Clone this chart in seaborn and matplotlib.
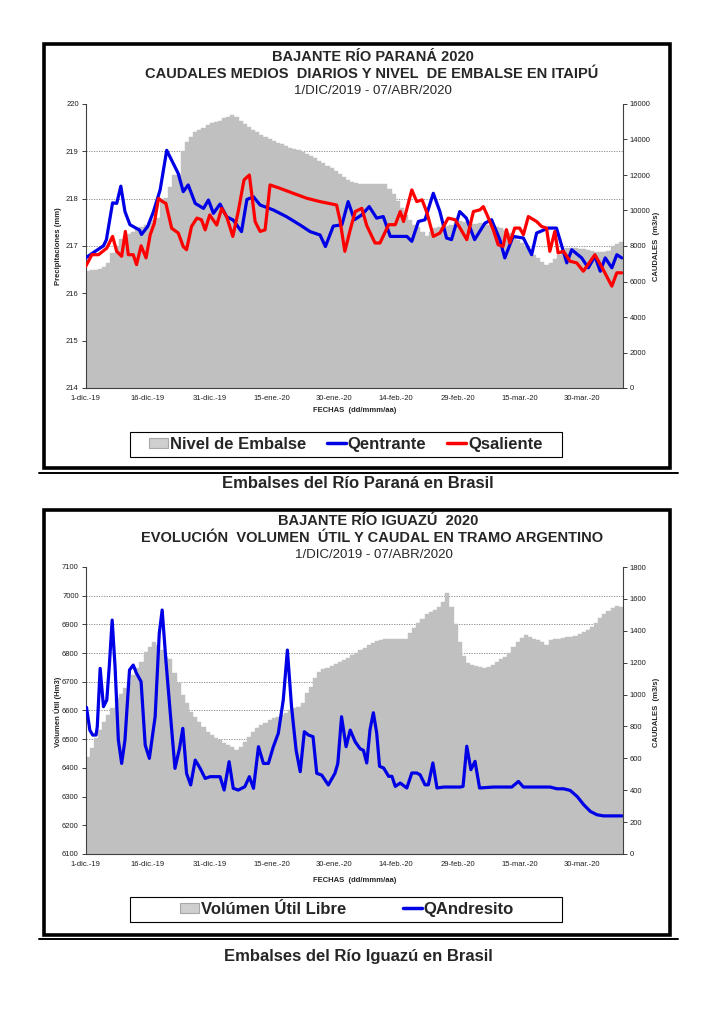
import matplotlib
matplotlib.use("Agg")
import matplotlib.pyplot as plt
import seaborn as sns
import numpy as np
from matplotlib.lines import Line2D
from matplotlib.patches import Patch, Rectangle

# ---------------- DATA ----------------
x_tick_pos = [0, 15, 30, 45, 60, 75, 90, 105, 120]
x_tick_labels = ["1-dic.-19", "16-dic.-19", "31-dic.-19", "15-ene.-20", "30-ene.-20",
                 "14-feb.-20", "29-feb.-20", "15-mar.-20", "30-mar.-20"]

# Top chart: Itaipú reservoir level (m), daily from 1-dic-2019
itaipu_level = [
    216.48, 216.49, 216.50, 216.52, 216.55, 216.65, 216.85, 217.00, 217.15, 217.20,
    217.25, 217.30, 217.35, 217.40, 217.45, 217.50, 217.55, 217.60, 218.00, 218.02,
    218.25, 218.50, 218.52, 219.00, 219.20, 219.30, 219.40, 219.45, 219.50, 219.55,
    219.60, 219.62, 219.65, 219.70, 219.73, 219.76, 219.72, 219.65, 219.58, 219.52,
    219.46, 219.40, 219.35, 219.30, 219.26, 219.22, 219.18, 219.15, 219.12, 219.08,
    219.05, 219.02, 218.98, 218.94, 218.90, 218.85, 218.80, 218.75, 218.70, 218.65,
    218.58, 218.52, 218.46, 218.40, 218.35, 218.33, 218.32, 218.32, 218.31, 218.31,
    218.30, 218.30, 218.30, 218.20, 218.10, 217.95, 217.80, 217.65, 217.55, 217.45,
    217.40, 217.30, 217.22, 217.30, 217.38, 217.40, 217.40, 217.42, 217.45, 217.50,
    217.52, 217.50, 217.48, 217.47, 217.47, 217.48, 217.48, 217.45, 217.42, 217.40,
    217.38, 217.33, 217.28, 217.20, 217.12, 217.06, 217.00, 216.90, 216.82, 216.74,
    216.66, 216.60, 216.64, 216.72, 216.80, 216.90, 216.96, 216.96, 216.95, 216.94,
    216.93, 216.92, 216.90, 216.88, 216.87, 216.87, 216.90, 217.00, 217.05, 217.08,
]

q_entrante_days = [
    0.0, 2.3, 4.3, 5.0, 6.5, 7.5, 8.5, 9.5, 10.7, 13.0, 13.5, 15.0, 16.4, 18.0, 19.6,
    20.8, 22.4, 23.6, 24.8, 26.5, 28.5, 29.7, 30.9, 32.5, 34.1, 35.7, 37.7, 39.0, 40.6,
    42.2, 45.4, 48.6, 51.9, 54.3, 56.7, 58.0, 59.9, 62.0, 63.5, 65.0, 66.8, 68.6, 70.4,
    72.0, 73.7, 75.3, 77.7, 78.9, 80.5, 82.1, 84.1, 85.7, 87.3, 88.5, 90.5, 92.1, 94.1,
    96.6, 98.2, 100.2, 101.4, 103.4, 105.9, 107.9, 109.1, 111.9, 113.9, 116.4, 117.6,
    120.0, 121.6, 123.2, 124.5, 125.7, 127.3, 128.5, 129.7,
]
q_entrante = [
    7330, 7700, 8010, 8350, 10430, 10400, 11370, 9940, 9200, 8900, 8650, 9100, 9940, 11150, 13390,
    12830, 12080, 11060, 11440, 10400, 10120, 10590, 9840, 10360, 9650, 9460, 8810, 10620, 10770,
    10310, 10030, 9650, 9180, 8810, 8620, 7970, 9120, 9200, 10500, 9480, 9750, 10220, 9570,
    9660, 8540, 8540, 8540, 8260, 9380, 9480, 10970, 9940, 8450, 8360, 9940, 9570, 8360,
    9290, 9480, 8360, 7330, 8540, 8450, 7510, 8730, 9010, 9010, 7050, 7790,
    7330, 6770, 7420, 6580, 7330, 6770, 7510, 7330,
]

q_saliente_days = [
    0.0, 1.5, 3.1, 5.1, 6.5, 7.5, 8.7, 9.6, 10.3, 11.5, 12.3, 13.4, 14.6, 15.6, 16.6,
    17.6, 18.6, 19.4, 20.8, 22.4, 23.6, 24.4, 25.6, 26.9, 28.0, 28.9, 30.0, 31.7, 32.9,
    34.1, 35.6, 36.9, 38.3, 39.6, 41.0, 42.2, 43.4, 44.6, 47.0, 50.2, 53.5, 56.7, 60.7,
    61.5, 62.7, 64.0, 65.2, 66.8, 68.0, 70.0, 71.2, 73.3, 74.9, 76.1, 76.9, 78.9, 80.1,
    81.4, 82.6, 84.1, 85.7, 87.7, 89.4, 92.2, 93.8, 95.4, 96.2, 97.1, 98.6, 99.8, 101.0,
    101.8, 102.6, 103.8, 105.0, 105.9, 107.1, 109.1, 110.3, 111.5, 112.3, 113.5, 114.3,
    115.6, 117.2, 118.8, 120.4, 123.2, 125.2, 127.3, 128.5, 129.7,
]
q_saliente = [
    6850, 7510, 7510, 7880, 8540, 7700, 7420, 8820, 7510, 7510, 6950, 8010, 7330, 8630, 9280,
    10680, 10500, 10400, 9000, 8730, 7970, 7790, 9100, 9570, 9480, 8910, 9750, 9180, 10120,
    9650, 8540, 9940, 11720, 12000, 9370, 8820, 8910, 11440, 11250, 10970, 10690, 10500, 10310,
    9480, 7700, 8910, 9940, 10120, 9150, 8170, 8170, 9200, 9200, 9940, 9380, 11160, 10500,
    10600, 9850, 8540, 8730, 9570, 9480, 8360, 9940, 10040, 10220, 9760, 8920, 8070, 7980,
    8920, 8170, 9010, 9010, 8640, 9660, 9380, 9100, 9010, 7700, 8820, 7610,
    7700, 7140, 7050, 6580, 7510, 6670, 5740, 6490, 6490,
]

# Bottom chart: free useful volume (Hm3), daily from 1-dic-2019
volumen_util = [
    6439, 6468, 6503, 6532, 6561, 6584, 6608, 6642, 6657, 6680,
    6700, 6724, 6747, 6770, 6805, 6822, 6840, 6828, 6811, 6788,
    6778, 6730, 6695, 6654, 6625, 6596, 6579, 6561, 6544, 6526,
    6515, 6503, 6497, 6488, 6480, 6472, 6462, 6474, 6491, 6509,
    6526, 6538, 6549, 6558, 6567, 6573, 6579, 6584, 6590, 6602,
    6608, 6613, 6625, 6660, 6683, 6712, 6735, 6743, 6749, 6755,
    6761, 6768, 6776, 6784, 6793, 6801, 6811, 6819, 6828, 6836,
    6843, 6846, 6848, 6848, 6848, 6848, 6848, 6850, 6869, 6888,
    6905, 6920, 6935, 6942, 6950, 6962, 6979, 7008, 6960, 6900,
    6840, 6790, 6765, 6760, 6756, 6752, 6747, 6753, 6760, 6770,
    6780, 6787, 6800, 6820, 6838, 6851, 6863, 6857, 6850, 6845,
    6840, 6829, 6846, 6848, 6850, 6852, 6855, 6857, 6860, 6865,
    6872, 6880, 6890, 6905, 6922, 6935, 6945, 6958, 6965, 6962,
]

q_andresito_days = [
    0.2, 1.0, 1.7, 2.5, 2.8, 3.5, 4.3, 5.1, 5.7, 6.4, 7.1, 7.9, 8.7, 9.5, 10.6, 11.5, 12.3,
    13.4, 14.4, 15.4, 16.8, 17.8, 18.5, 19.4, 20.4, 21.6, 22.7, 23.5, 24.4, 25.4, 26.5,
    27.7, 28.9, 30.1, 32.5, 33.5, 34.7, 35.7, 36.9, 38.5, 39.6, 40.6, 41.8, 43.0, 44.2,
    45.4, 46.6, 47.8, 48.8, 49.8, 50.9, 51.9, 52.9, 53.9, 55.0, 55.9, 57.1, 58.7, 60.3,
    61.0, 61.9, 63.0, 64.0, 65.2, 66.4, 67.2, 68.0, 68.8, 69.6, 70.4, 71.1, 72.1, 73.3,
    74.1, 74.9, 76.1, 77.7, 78.9, 80.1, 80.9, 82.1, 82.9, 84.0, 85.0, 86.6, 90.6, 91.3,
    92.2, 93.2, 94.2, 95.3, 98.7, 103.1, 104.7, 105.9, 112.4, 114.0, 115.6, 117.2, 118.9,
    120.5, 122.1, 123.7, 125.3, 129.8,
]
q_andresito = [
    920, 777, 746, 746, 798, 1164, 924, 966, 1175, 1467, 1175, 715, 568, 715, 1154, 1185, 1133,
    1081, 683, 600, 861, 1384, 1530, 1216, 903, 537, 663, 788, 506, 433, 589,
    537, 474, 485, 485, 401, 579, 412, 401, 422, 485, 412, 673, 568, 568,
    673, 757, 966, 1279, 924, 652, 516, 767, 746, 736, 506, 495, 433, 506,
    568, 861, 673, 777, 704, 660, 650, 571, 781, 886, 760, 550, 539, 487,
    487, 424, 445, 414, 508, 508, 497, 434, 434, 571, 414, 420, 420, 424,
    676, 529, 581, 414, 420, 420, 455, 420, 420, 409, 409, 399, 361,
    309, 267, 246, 239, 239,
]

# ---------------- STYLE ----------------
sns.set_theme(style="white")
plt.rcParams["font.family"] = ["Liberation Sans", "DejaVu Sans"]

W, H = 725, 1024
fig = plt.figure(figsize=(7.25, 10.24), dpi=100)
fig.patch.set_facecolor("white")


def fx(px):
    return px / W


def fy(py):
    return 1 - py / H


GRAY = "#c0c0c0"
BLUE = "#0000e6"
RED = "#ff0000"
TICK_FS = 5.5
SPINE_C = "#404040"


def make_axes(top_px, bot_px, yticks):
    rect = [fx(85.7), fy(bot_px), fx(623) - fx(85.7), fy(top_px) - fy(bot_px)]
    # background axes carrying only the dotted gridlines (drawn first, behind the bars)
    gax = fig.add_axes(rect, zorder=0)
    gax.set_facecolor("white")
    gax.set_ylim(yticks[0], yticks[-1])
    gax.set_xlim(0, 1)
    for yv in yticks[1:-1]:
        gax.axhline(yv, color="#808080", linestyle=(0, (1.5, 1.5)), linewidth=0.6)
    gax.axis("off")

    ax = fig.add_axes(rect, zorder=1)
    ax2 = ax.twinx()
    for a in (ax, ax2):
        a.set_facecolor("none")
        a.grid(False)
        a.spines["top"].set_visible(False)
        for s in ("left", "bottom", "right"):
            a.spines[s].set_color(SPINE_C)
            a.spines[s].set_linewidth(0.8)
        a.tick_params(labelsize=TICK_FS, colors="#202020", length=3, width=0.6, direction="out", pad=2)
    ax2.spines["left"].set_visible(False)
    ax2.spines["bottom"].set_visible(False)
    ax.spines["right"].set_visible(False)
    ax.set_yticks(yticks)
    ax.set_ylim(yticks[0], yticks[-1])
    ax.set_xlim(0, 130)
    ax.set_xticks(x_tick_pos)
    ax.set_xticklabels(x_tick_labels)
    return ax, ax2


def frame(top_px, bot_px, rule_px):
    fig.add_artist(Rectangle((fx(44), fy(bot_px)), fx(670) - fx(44), fy(top_px) - fy(bot_px),
                             transform=fig.transFigure, fill=False, lw=2.6, edgecolor="black"))
    fig.add_artist(Line2D([fx(39), fx(678)], [fy(rule_px), fy(rule_px)],
                          transform=fig.transFigure, lw=1.4, color="black"))


def legend_box(handles, labels, x_left, y_top, y_bot, colspace):
    fig.add_artist(Rectangle((fx(130), fy(y_bot)), fx(562) - fx(130), fy(y_top) - fy(y_bot),
                             transform=fig.transFigure, fill=True, facecolor="white",
                             lw=0.8, edgecolor="black", zorder=5))
    lg = fig.legend(handles, labels, loc="center left",
                    bbox_to_anchor=(fx(x_left), fy((y_top + y_bot) / 2)),
                    ncol=len(handles), frameon=False, prop=dict(weight="bold", size=12),
                    handlelength=1.15, handleheight=0.6, handletextpad=0.1,
                    borderpad=0, borderaxespad=0, columnspacing=colspace)
    lg.set_zorder(6)


# ================= TOP CHART =================
frame(44, 468, 473)
ax, ax2 = make_axes(104, 388, list(range(214, 221)))
days_top = np.arange(len(itaipu_level))
ax.bar(days_top, itaipu_level, width=1.0, align="edge", color=GRAY, edgecolor=GRAY,
       linewidth=0.3, zorder=2)
ax.set_ylim(214, 220)
sns.lineplot(x=q_entrante_days, y=q_entrante, ax=ax2, color=BLUE, linewidth=2.3,
             estimator=None, sort=False, legend=False)
sns.lineplot(x=q_saliente_days, y=q_saliente, ax=ax2, color=RED, linewidth=2.3,
             estimator=None, sort=False, legend=False)
ax2.set_ylim(0, 16000)
ax2.set_yticks(range(0, 16001, 2000))
ax2.set_ylabel("")
ax.set_xlim(0, 130)

fig.text(fx(373), fy(57), "BAJANTE RÍO PARANÁ 2020", ha="center", va="center", fontsize=10.5, weight="bold")
fig.text(fx(372), fy(73.5), "CAUDALES MEDIOS  DIARIOS Y NIVEL  DE EMBALSE EN ITAIPÚ", ha="center", va="center",
         fontsize=10.5, weight="bold")
fig.text(fx(373), fy(90.5), "1/DIC/2019 - 07/ABR/2020", ha="center", va="center", fontsize=9.5)
fig.text(fx(58), fy(246), "Precipitaciones (mm)", rotation=90, ha="center", va="center", fontsize=5.5, weight="bold")
fig.text(fx(656), fy(246), "CAUDALES  (m3/s)", rotation=90, ha="center", va="center", fontsize=5.5, weight="bold")
fig.text(fx(355), fy(411), "FECHAS  (dd/mmm/aa)", ha="center", va="center", fontsize=5.5, weight="bold")

h_top = [Patch(facecolor="#cfcfcf", edgecolor="#a8a8a8", linewidth=0.8),
         Line2D([], [], color=BLUE, lw=2.5), Line2D([], [], color=RED, lw=2.5)]
legend_box(h_top, ["Nivel de Embalse", "Qentrante", "Qsaliente"], 149, 432, 457, 1.25)

fig.text(fx(358), fy(484), "Embalses del Río Paraná en Brasil", ha="center", va="center",
         fontsize=12, weight="bold")

# ================= BOTTOM CHART =================
frame(510, 935, 939)
bx, bx2 = make_axes(567, 854, list(range(6100, 7101, 100)))
days_bot = np.arange(len(volumen_util))
bx.bar(days_bot, volumen_util, width=1.0, align="edge", color=GRAY, edgecolor=GRAY,
       linewidth=0.3, zorder=2)
bx.set_ylim(6100, 7100)
sns.lineplot(x=q_andresito_days, y=q_andresito, ax=bx2, color=BLUE, linewidth=2.3,
             estimator=None, sort=False, legend=False)
bx2.set_ylim(0, 1800)
bx2.set_yticks(range(0, 1801, 200))
bx2.set_ylabel("")
bx.set_xlim(0, 130)

fig.text(fx(378), fy(521), "BAJANTE RÍO IGUAZÚ  2020", ha="center", va="center", fontsize=10.5, weight="bold")
fig.text(fx(372), fy(538.5), "EVOLUCIÓN  VOLUMEN  ÚTIL Y CAUDAL EN TRAMO ARGENTINO", ha="center", va="center",
         fontsize=10.5, weight="bold")
fig.text(fx(374), fy(555.5), "1/DIC/2019 - 07/ABR/2020", ha="center", va="center", fontsize=9.5)
fig.text(fx(58), fy(712), "Volumen Útil (Hm3)", rotation=90, ha="center", va="center", fontsize=5.5, weight="bold")
fig.text(fx(656), fy(712), "CAUDALES  (m3/s)", rotation=90, ha="center", va="center", fontsize=5.5, weight="bold")
fig.text(fx(355), fy(881), "FECHAS  (dd/mmm/aa)", ha="center", va="center", fontsize=5.5, weight="bold")

h_bot = [Patch(facecolor="#cfcfcf", edgecolor="#a8a8a8", linewidth=0.8), Line2D([], [], color=BLUE, lw=2.5)]
legend_box(h_bot, ["Volúmen Útil Libre", "QAndresito"], 180, 897, 922, 3.4)

fig.text(fx(358), fy(957), "Embalses del Río Iguazú en Brasil", ha="center", va="center",
         fontsize=12, weight="bold")

fig.savefig("out.png", dpi=100, facecolor="white")
